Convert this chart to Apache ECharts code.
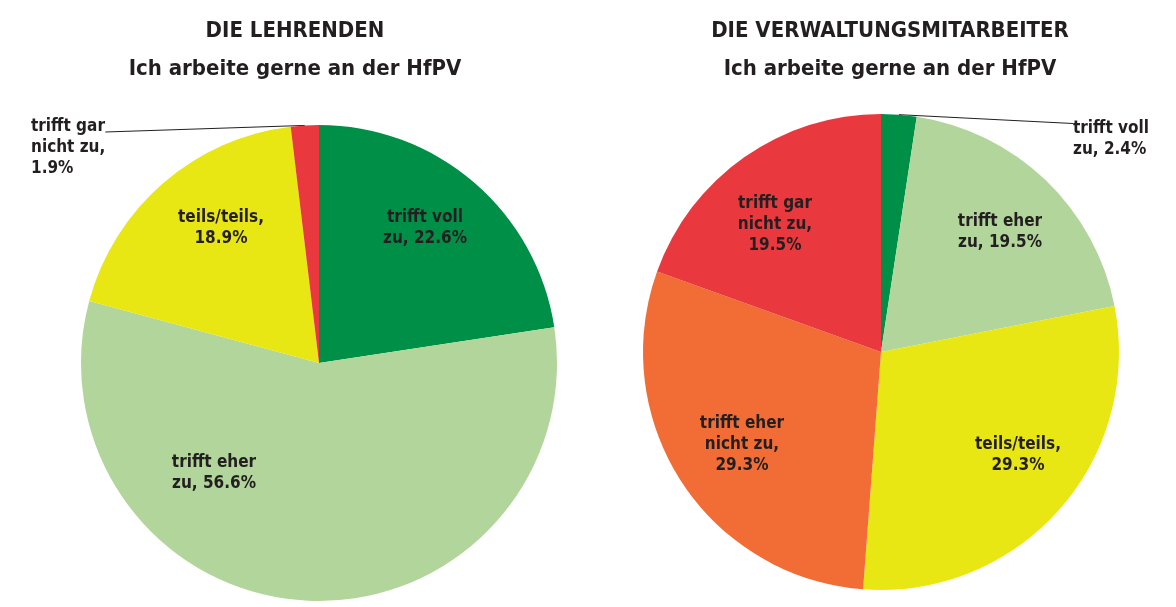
<!DOCTYPE html>
<html lang="de">
<head>
    <meta charset="UTF-8">
    <title>Ich arbeite gerne an der HfPV</title>
    <script src="https://cdn.jsdelivr.net/npm/echarts@6/dist/echarts.min.js"></script>
</head>
<body style="margin:0;background:#fff;">
    <div id="main" style="width:1176px;height:607px;"></div>
<script type="text/javascript">
    // Daten
    var lehrendeKategorien = ['trifft voll\nzu', 'trifft eher\nzu', 'teils/teils', 'trifft gar\nnicht zu'];
    var lehrendeWerte = [22.6, 56.6, 18.9, 1.9];
    var verwaltungKategorien = ['trifft voll\nzu', 'trifft eher\nzu', 'teils/teils', 'trifft eher\nnicht zu', 'trifft gar\nnicht zu'];
    var verwaltungWerte = [2.4, 19.5, 29.3, 29.3, 19.5];

    var farben = {
        'trifft voll\nzu': '#008f47',
        'trifft eher\nzu': '#b1d59b',
        'teils/teils': '#e9e713',
        'trifft eher\nnicht zu': '#f26d36',
        'trifft gar\nnicht zu': '#e9383e'
    };

    // Label-Positionen (Pixel), pro Serie: x, y, align, verticalAlign
    var labelPos = [
        [[425, 228, 'center', 'middle'], [214, 473, 'center', 'middle'], [221, 228, 'center', 'middle'], [31, 85, 'left', 'top']],
        [[1073, 87, 'left', 'top'], [1000, 232, 'center', 'middle'], [1018, 455, 'center', 'middle'], [742, 445, 'center', 'middle'], [775, 225, 'center', 'middle']]
    ];
    var aussen = [[3], [0]];

    var schrift = "'Liberation Sans Narrow', 'DejaVu Sans Condensed', 'Roboto', sans-serif";

    function baueDaten(kat, werte, s) {
        return kat.map(function (k, i) {
            var text = k.replace('\n', ' ');
            var lbl;
            if (k === 'teils/teils') lbl = 'teils/teils,\n' + werte[i].toFixed(1) + '%';
            else if (k.indexOf('nicht') >= 0) lbl = k + ',\n' + werte[i].toFixed(1) + '%';
            else lbl = k + ', ' + werte[i].toFixed(1) + '%';
            var item = {
                name: text,
                value: werte[i],
                itemStyle: {color: farben[k]},
                label: {formatter: lbl}
            };
            if (aussen[s].indexOf(i) >= 0) {
                item.label.position = 'outside';
                item.label.align = 'left';
                // obere Polsterung, damit die Linie oben am Text ansetzt
                item.label.padding = [31, 0, 0, 0];
                item.labelLine = {show: true};
            }
            return item;
        });
    }

    function serie(idx, kat, werte, cx, cy) {
        return {
            type: 'pie',
            center: [cx, cy],
            radius: 238,
            startAngle: 90,
            clockwise: true,
            avoidLabelOverlap: false,
            silent: true,
            itemStyle: {borderWidth: 0},
            label: {
                position: 'inside',
                color: '#231f20',
                fontFamily: schrift,
                fontWeight: 'bold',
                fontSize: 17,
                lineHeight: 21,
                align: 'center'
            },
            labelLine: {
                show: false,
                length: 0,
                length2: 0,
                smooth: false,
                lineStyle: {color: '#231f20', width: 1}
            },
            labelLayout: function (p) {
                var pos = labelPos[idx][p.dataIndex];
                return {x: pos[0], y: pos[1], align: pos[2], verticalAlign: pos[3]};
            },
            data: baueDaten(kat, werte, idx)
        };
    }

    var myChart = echarts.init(document.getElementById('main'));
    var titelStil = {fontFamily: schrift, fontWeight: 'bold', fontSize: 22, color: '#231f20'};
    var option = {
        backgroundColor: '#ffffff',
        animation: false,
        title: [
            {text: 'DIE LEHRENDEN', left: 290, top: 15, textAlign: 'center', textStyle: titelStil},
            {text: 'Ich arbeite gerne an der HfPV', left: 290, top: 53, textAlign: 'center', textStyle: titelStil},
            {text: 'DIE VERWALTUNGSMITARBEITER', left: 885, top: 15, textAlign: 'center', textStyle: titelStil},
            {text: 'Ich arbeite gerne an der HfPV', left: 885, top: 53, textAlign: 'center', textStyle: titelStil}
        ],
        series: [
            serie(0, lehrendeKategorien, lehrendeWerte, 319, 363),
            serie(1, verwaltungKategorien, verwaltungWerte, 881, 352)
        ]
    };
    myChart.setOption(option);
</script>
</body>
</html>
